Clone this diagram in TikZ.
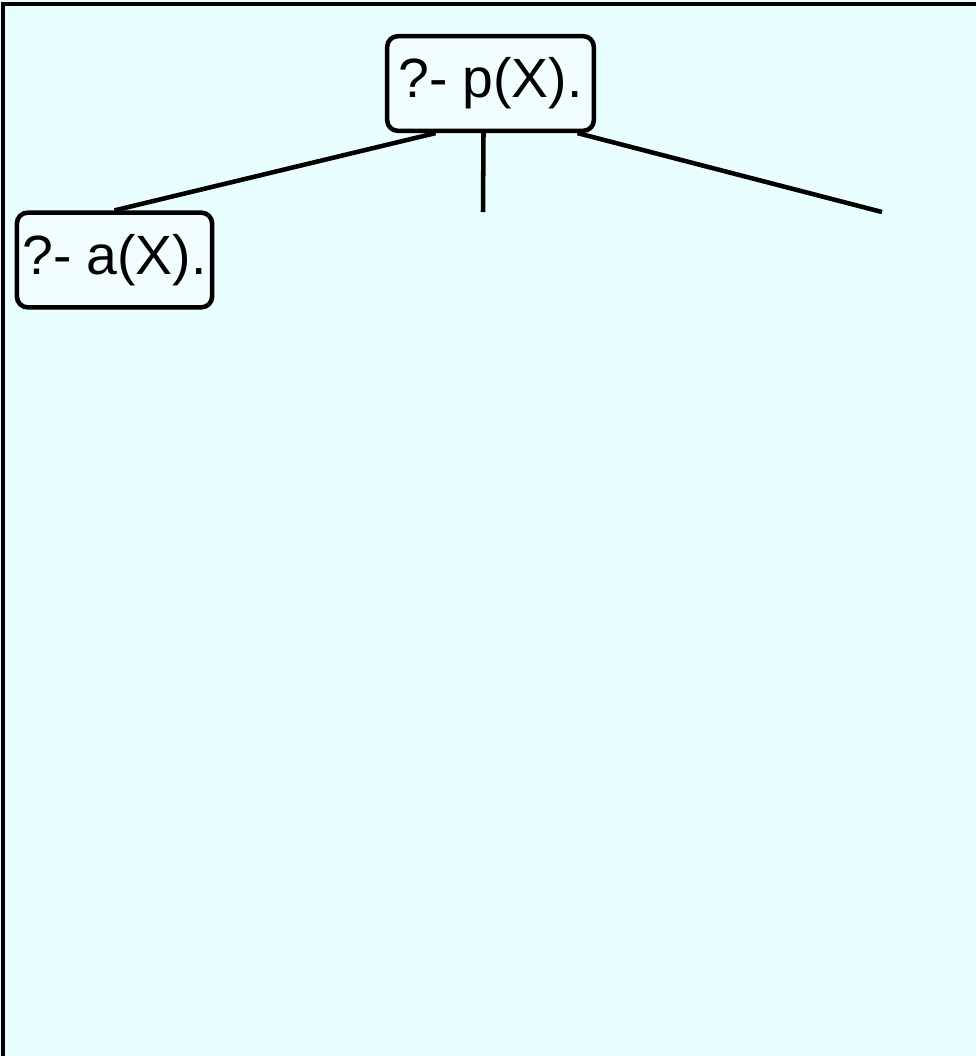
\documentclass[tikz,border=0pt]{standalone}
\usepackage{fontspec}
\setmainfont{Liberation Sans}
\usepackage{xcolor}
\usetikzlibrary{positioning,calc}

\definecolor{panelbg}{HTML}{E8FEFF}
\definecolor{goalbg}{HTML}{F2FDFF}

\begin{document}
\begin{tikzpicture}[
			x=0.75pt, y=-0.75pt,
			goal/.style={draw, line width=3.4pt, rounded corners=8pt, fill=goalbg,
				font=\fontsize{41.5}{44}\selectfont, inner xsep=4pt,
				minimum height=71pt, align=center},
			branch/.style={line width=3.4pt},
			]
			
			%% -- panel -------------------------------------------------------------
			\useasboundingbox (0,0) rectangle (976,1056);
			\fill[panelbg] (0,0) rectangle (976,1056);
			\draw[line width=3.4pt] (3,1056) -- (3,4) -- (976,4);
			
			%% -- goals ---------------------------------------------------------------
			\node[goal, minimum width=155pt] (p) at (490.5,83.5) {?- p(X).};
			\node[goal, minimum width=144pt] (a) at (114.5,260) {?- a(X).};
			
			%% -- open branches -------------------------------------------------------
			\coordinate (mid) at (483,212);
			\coordinate (right) at (882,212);
			
			\draw[branch] ($(p.south)+(-55,0)$) -- (a.north);
			\draw[branch] ($(p.south)+(-7,0)$)  -- (mid);
			\draw[branch] ($(p.south)+(87,0)$)  -- (right);
			
		\end{tikzpicture}
\end{document}
